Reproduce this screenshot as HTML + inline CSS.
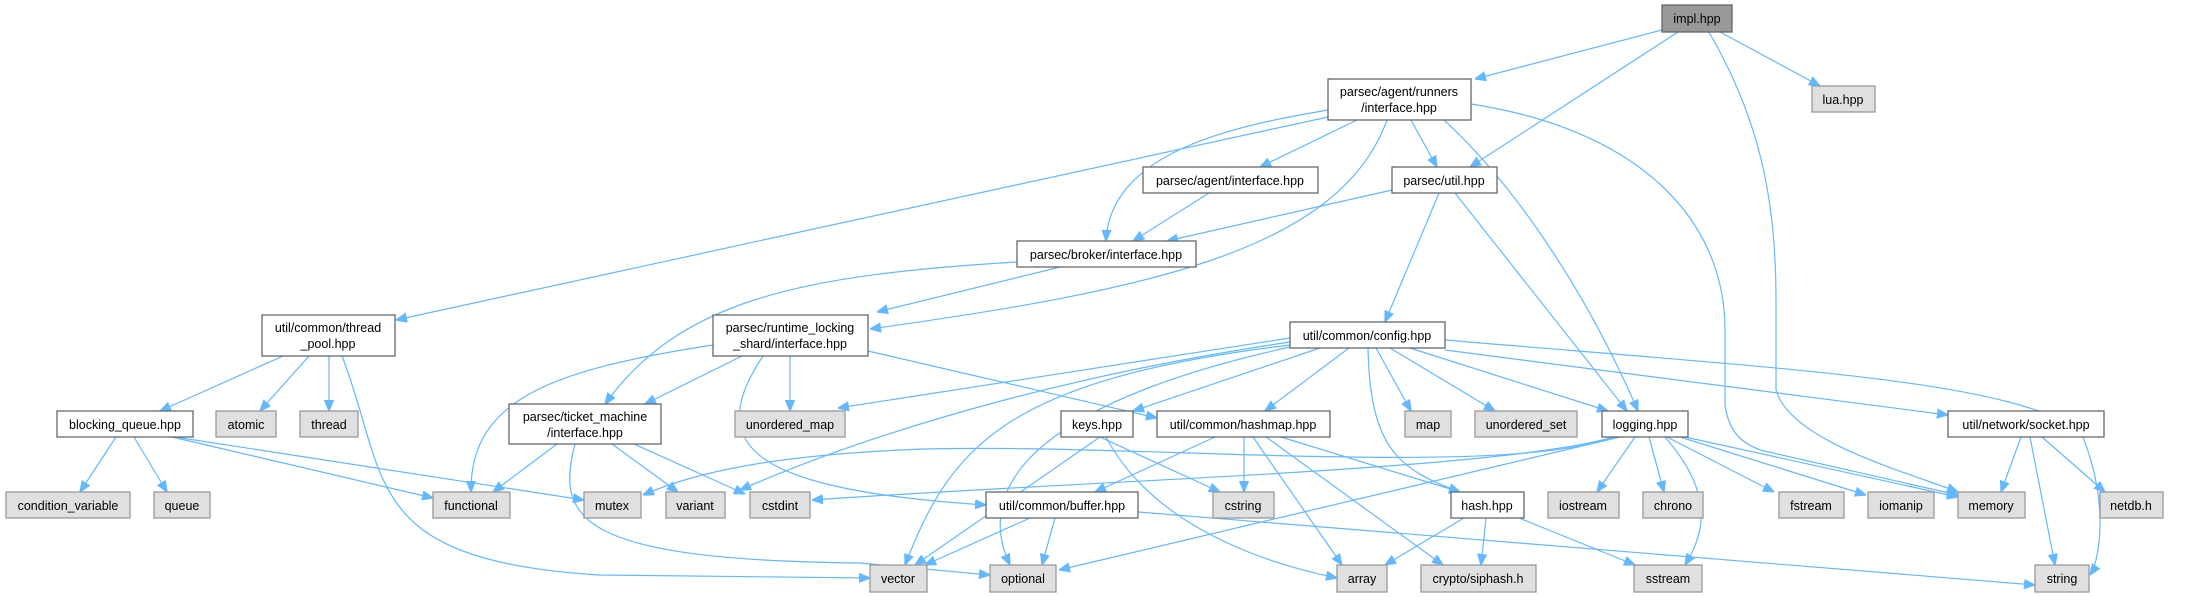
<!DOCTYPE html>
<html><head><meta charset="utf-8"><style>
html,body{margin:0;padding:0;background:#fff;}
svg{display:block;}
text{font-family:"Liberation Sans",sans-serif;font-size:12.5px;fill:#000;text-anchor:middle;}
.n{fill:#fff;stroke:#666;stroke-width:1.3;}
.l{fill:#e0e0e0;stroke:#999;stroke-width:1.3;}
.r{fill:#999;stroke:#666;stroke-width:1.3;}
path{fill:none;stroke:#63b8ff;stroke-width:1.2;}
</style></head><body>
<svg width="2192" height="597" viewBox="0 0 2192 597" xmlns="http://www.w3.org/2000/svg">
<defs><marker id="a" viewBox="0 0 10 10" refX="10" refY="5" markerWidth="11" markerHeight="11" markerUnits="userSpaceOnUse" orient="auto"><path d="M0,1 L10,5 L0,9 Z" style="fill:#63b8ff;stroke:#63b8ff"/></marker></defs>
<g marker-end="url(#a)">
<path d="M1662,30 L1475,79"/>
<path d="M1678,32 L1470,167"/>
<path d="M1709,32 C1760,120 1776,200 1776,300 L1776,390 C1790,440 1900,470 1958,492"/>
<path d="M1720,32 L1820,86"/>
<path d="M1357,120 L1260,167"/>
<path d="M1411,120 L1437,167"/>
<path d="M1328,110 C1240,125 1110,150 1106,241"/>
<path d="M1328,117 L396,320"/>
<path d="M1387,120 C1340,250 1150,290 870,329"/>
<path d="M1444,120 C1520,190 1590,300 1638,411"/>
<path d="M1471,104 C1640,130 1725,220 1725,330 L1725,405 C1730,440 1750,445 1760,450 L1958,495"/>
<path d="M1392,190 L1167,241"/>
<path d="M1439,193 L1385,322"/>
<path d="M1455,193 L1627,411"/>
<path d="M1209,193 L1133,241"/>
<path d="M1060,267 L877,312"/>
<path d="M1017,262 C800,275 680,300 605,404"/>
<path d="M742,356 L645,404"/>
<path d="M713,345 C550,370 470,400 471,492"/>
<path d="M790,356 L790,411"/>
<path d="M868,351 L1157,418"/>
<path d="M763,356 C700,450 760,490 986,505"/>
<path d="M283,356 L160,411"/>
<path d="M309,356 L260,411"/>
<path d="M329,356 L329,411"/>
<path d="M342,356 C390,480 360,560 600,575 L870,578"/>
<path d="M116,437 L80,492"/>
<path d="M134,437 L167,492"/>
<path d="M172,437 L433,498"/>
<path d="M175,437 L584,500"/>
<path d="M557,444 L493,492"/>
<path d="M612,444 L678,492"/>
<path d="M634,444 L745,494"/>
<path d="M575,444 C555,520 580,560 860,563 L990,575"/>
<path d="M1290,338 L838,408"/>
<path d="M1290,342 C1100,370 900,420 740,490"/>
<path d="M1290,345 C1000,380 950,450 905,565"/>
<path d="M1290,347 C1050,400 970,480 1010,565"/>
<path d="M1320,348 L1133,411"/>
<path d="M1349,348 L1265,411"/>
<path d="M1368,348 C1370,450 1400,470 1460,492"/>
<path d="M1376,348 L1411,411"/>
<path d="M1390,348 L1495,411"/>
<path d="M1410,348 L1608,411"/>
<path d="M1445,350 L1948,415"/>
<path d="M1445,340 C1800,370 2000,380 2080,430 C2110,500 2100,560 2090,575"/>
<path d="M1100,437 L1220,492"/>
<path d="M1100,437 L915,565"/>
<path d="M1106,437 C1150,520 1250,560 1337,578"/>
<path d="M1215,437 L1095,492"/>
<path d="M1244,437 L1244,492"/>
<path d="M1253,437 L1342,565"/>
<path d="M1266,437 L1443,565"/>
<path d="M1281,437 L1460,492"/>
<path d="M1635,437 L1597,492"/>
<path d="M1649,437 L1664,492"/>
<path d="M1665,437 C1720,500 1700,540 1685,565"/>
<path d="M1667,437 L1774,492"/>
<path d="M1680,437 L1866,495"/>
<path d="M1685,437 L1958,497"/>
<path d="M1614,437 C1500,470 1100,480 812,500"/>
<path d="M1614,437 C1500,480 1100,440 900,450 C780,456 700,470 643,495"/>
<path d="M1620,437 L1059,570"/>
<path d="M2021,437 L2001,492"/>
<path d="M2030,437 L2055,565"/>
<path d="M2042,437 L2105,492"/>
<path d="M1464,518 L1385,565"/>
<path d="M1486,518 L1481,565"/>
<path d="M1519,518 L1635,565"/>
<path d="M1030,518 L925,565"/>
<path d="M1055,518 L1042,565"/>
<path d="M1138,512 L2035,585"/>
</g>
<g>
<rect class="r" x="1662" y="5" width="70" height="27"/><text x="1697" y="23">impl.hpp</text>
<rect class="n" x="1328" y="79" width="143" height="41"/><text x="1399" y="96">parsec/agent/runners</text><text x="1399" y="112">/interface.hpp</text>
<rect class="l" x="1812" y="86" width="63" height="26"/><text x="1843" y="104">lua.hpp</text>
<rect class="n" x="1143" y="167" width="175" height="26"/><text x="1230" y="185">parsec/agent/interface.hpp</text>
<rect class="n" x="1392" y="167" width="105" height="26"/><text x="1444" y="185">parsec/util.hpp</text>
<rect class="n" x="1017" y="241" width="179" height="26"/><text x="1106" y="259">parsec/broker/interface.hpp</text>
<rect class="n" x="262" y="315" width="133" height="41"/><text x="328" y="332">util/common/thread</text><text x="328" y="348">_pool.hpp</text>
<rect class="n" x="713" y="315" width="155" height="41"/><text x="790" y="332">parsec/runtime_locking</text><text x="790" y="348">_shard/interface.hpp</text>
<rect class="n" x="1290" y="322" width="155" height="26"/><text x="1367" y="340">util/common/config.hpp</text>
<rect class="n" x="57" y="411" width="136" height="26"/><text x="125" y="429">blocking_queue.hpp</text>
<rect class="l" x="216" y="411" width="60" height="26"/><text x="246" y="429">atomic</text>
<rect class="l" x="300" y="411" width="58" height="26"/><text x="329" y="429">thread</text>
<rect class="n" x="509" y="404" width="152" height="40"/><text x="585" y="421">parsec/ticket_machine</text><text x="585" y="437">/interface.hpp</text>
<rect class="l" x="735" y="411" width="110" height="26"/><text x="790" y="429">unordered_map</text>
<rect class="n" x="1061" y="411" width="72" height="26"/><text x="1097" y="429">keys.hpp</text>
<rect class="n" x="1157" y="411" width="173" height="26"/><text x="1243" y="429">util/common/hashmap.hpp</text>
<rect class="l" x="1405" y="411" width="46" height="26"/><text x="1428" y="429">map</text>
<rect class="l" x="1475" y="411" width="102" height="26"/><text x="1526" y="429">unordered_set</text>
<rect class="n" x="1602" y="411" width="86" height="26"/><text x="1645" y="429">logging.hpp</text>
<rect class="n" x="1948" y="411" width="156" height="26"/><text x="2026" y="429">util/network/socket.hpp</text>
<rect class="l" x="6" y="492" width="124" height="26"/><text x="68" y="510">condition_variable</text>
<rect class="l" x="154" y="492" width="56" height="26"/><text x="182" y="510">queue</text>
<rect class="l" x="433" y="492" width="77" height="26"/><text x="471" y="510">functional</text>
<rect class="l" x="584" y="492" width="57" height="26"/><text x="612" y="510">mutex</text>
<rect class="l" x="666" y="492" width="59" height="26"/><text x="695" y="510">variant</text>
<rect class="l" x="750" y="492" width="60" height="26"/><text x="780" y="510">cstdint</text>
<rect class="n" x="986" y="492" width="152" height="26"/><text x="1062" y="510">util/common/buffer.hpp</text>
<rect class="l" x="1213" y="492" width="61" height="26"/><text x="1243" y="510">cstring</text>
<rect class="n" x="1451" y="492" width="73" height="26"/><text x="1487" y="510">hash.hpp</text>
<rect class="l" x="1548" y="492" width="71" height="26"/><text x="1583" y="510">iostream</text>
<rect class="l" x="1643" y="492" width="60" height="26"/><text x="1673" y="510">chrono</text>
<rect class="l" x="1779" y="492" width="65" height="26"/><text x="1811" y="510">fstream</text>
<rect class="l" x="1868" y="492" width="66" height="26"/><text x="1901" y="510">iomanip</text>
<rect class="l" x="1958" y="492" width="67" height="26"/><text x="1991" y="510">memory</text>
<rect class="l" x="2100" y="492" width="63" height="26"/><text x="2131" y="510">netdb.h</text>
<rect class="l" x="870" y="565" width="57" height="27"/><text x="898" y="583">vector</text>
<rect class="l" x="990" y="565" width="66" height="27"/><text x="1023" y="583">optional</text>
<rect class="l" x="1337" y="565" width="50" height="27"/><text x="1362" y="583">array</text>
<rect class="l" x="1421" y="565" width="115" height="27"/><text x="1478" y="583">crypto/siphash.h</text>
<rect class="l" x="1634" y="565" width="68" height="27"/><text x="1668" y="583">sstream</text>
<rect class="l" x="2035" y="565" width="54" height="27"/><text x="2062" y="583">string</text>
</g>
</svg>
</body></html>
